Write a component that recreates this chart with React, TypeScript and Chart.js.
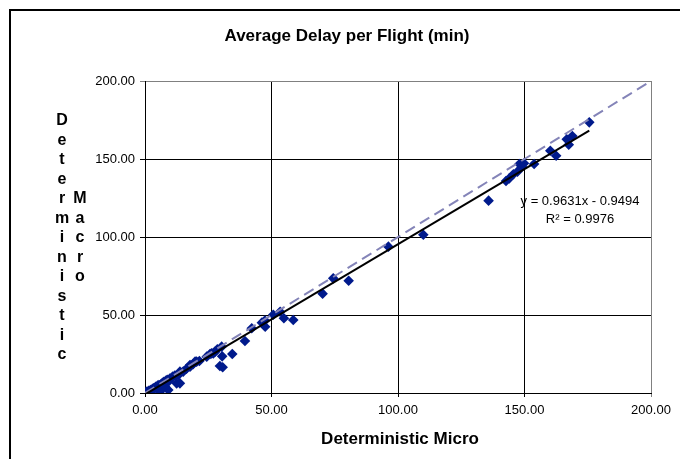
import React, { useEffect, useRef } from "react";
import { Chart, registerables } from "chart.js";

Chart.register(...registerables);

const chartTitle = "Average Delay per Flight (min)";
const xAxisTitle = "Deterministic Micro";
const yAxisTitleWords = ["Deterministic", "Macro"];
const equationLines = ["y = 0.9631x - 0.9494", "R\u00B2 = 0.9976"];

const microDelay = [
  0.2, 0.5, 0.8, 1.2, 1.5, 2.0, 2.4, 3.0, 3.3, 3.8, 4.2, 4.6, 5.0, 5.5, 5.9, 5.9,
  6.5, 7.0, 7.5, 7.9, 8.3, 8.8, 9.2, 9.4, 9.8, 10.5, 11.0, 11.8, 12.5, 13.2, 13.8,
  13.8, 15.1, 16.4, 17.8, 17.8, 19.0, 19.8, 20.4, 21.5, 24.4, 25.7, 26.3, 27.0,
  27.7, 28.6, 29.6, 30.7, 30.5, 30.3, 34.5, 39.5, 42.2, 46.2, 47.4, 47.5, 50.7,
  53.4, 54.9, 58.6, 70.2, 74.4, 80.5, 96.2, 110.0, 135.8, 142.7, 144.0, 145.6,
  147.2, 148.0, 149.0, 149.8, 153.8, 160.2, 162.5, 166.7, 167.5, 168.9, 175.6,
];
const macroDelay = [
  0.3, 0.2, 0.9, 0.6, 1.4, 1.5, 2.1, 2.6, 3.0, 2.9, 4.0, 3.5, 4.8, 5.1, 0.8, 2.4,
  5.9, 6.6, 7.2, 4.0, 8.0, 8.4, 1.9, 7.6, 9.2, 9.8, 10.6, 11.2, 6.2, 11.5, 6.2,
  13.7, 13.7, 15.5, 16.9, 17.9, 18.5, 20.1, 20.1, 20.5, 23.3, 25.0, 25.4, 25.4,
  26.5, 28.0, 17.3, 16.5, 23.5, 29.7, 25.0, 33.3, 41.5, 45.1, 46.4, 42.5, 50.2,
  52.1, 47.9, 46.8, 63.7, 73.5, 72.0, 93.8, 101.4, 123.3, 135.9, 137.6, 140.2,
  141.9, 146.8, 145.0, 147.2, 146.8, 155.3, 152.1, 162.6, 159.2, 164.7, 173.5,
];

const trendX = [0.2, 175.6];
const trendY = [-0.76, 168.17];

const identityX = [0, 200];
const identityY = [0, 200];

const axisMin = 0;
const axisMax = 200;
const axisStep = 50;

const FONT = "'Liberation Sans', Arial, sans-serif";

const textPlugin = {
  id: "textPlugin",
  afterDraw(chart: any) {
    const { ctx, chartArea, width, height } = chart;
    ctx.save();
    // frame
    ctx.strokeStyle = "#000";
    ctx.lineWidth = 2;
    ctx.beginPath();
    ctx.moveTo(2, height + 5);
    ctx.lineTo(2, 2);
    ctx.lineTo(width - 3, 2);
    ctx.lineTo(width - 3, height + 5);
    ctx.stroke();

    ctx.fillStyle = "#000";
    ctx.textAlign = "center";
    ctx.textBaseline = "middle";
    ctx.font = `bold 17px ${FONT}`;
    ctx.fillText(chartTitle, (chartArea.left + chartArea.right) / 2 - 51, 28);
    ctx.fillText(xAxisTitle, (chartArea.left + chartArea.right) / 2 + 2, 431);

    ctx.font = `bold 16px ${FONT}`;
    const colX = [54, 72];
    const startIdx = [0, 4];
    const step = 19.5;
    yAxisTitleWords.forEach((w, c) => {
      for (let i = 0; i < w.length; i++) {
        ctx.fillText(w[i], colX[c], 113 + (startIdx[c] + i) * step);
      }
    });

    ctx.font = `13px ${FONT}`;
    ctx.fillText(equationLines[0], 572, 193);
    ctx.fillText(equationLines[1], 572, 211);
    ctx.restore();
  },
};

const gridColor = (c: any) =>
  c.tick && c.tick.value === axisMax ? "#808080" : "#000000";

export default function App() {
  const ref = useRef<HTMLCanvasElement>(null);
  useEffect(() => {
    document.documentElement.style.overflow = "hidden";
    const pts = microDelay.map((x, i) => ({ x, y: macroDelay[i] }));
    const trend = trendX.map((x, i) => ({ x, y: trendY[i] }));
    const ident = identityX.map((x, i) => ({ x, y: identityY[i] }));
    const navy = "#001A8C";
    const tickFont = { family: FONT, size: 13 };
    const chart = new Chart(ref.current!, {
      type: "scatter",
      data: {
        datasets: [
          {
            data: trend,
            showLine: true,
            borderColor: "#000000",
            borderWidth: 2,
            pointRadius: 0,
            order: 0,
          },
          {
            data: ident,
            showLine: true,
            borderColor: "#8484B8",
            borderWidth: 2,
            borderDash: [11, 6],
            pointRadius: 0,
            order: 1,
          },
          {
            data: pts,
            showLine: false,
            pointStyle: "rectRot",
            pointRadius: 5.3,
            backgroundColor: navy,
            borderColor: navy,
            borderWidth: 0,
            order: 2,
          },
        ] as any,
      },
      options: {
        animation: false,
        responsive: false,
        layout: { padding: { top: 73, right: 37, bottom: 0, left: 0 } },
        plugins: {
          legend: { display: false },
          tooltip: { enabled: false },
          title: { display: false },
        },
        scales: {
          x: {
            type: "linear",
            min: axisMin,
            max: axisMax,
            ticks: {
              stepSize: axisStep,
              color: "#000",
              font: tickFont,
              padding: 6,
              maxRotation: 0,
              callback: (v: any) => Number(v).toFixed(2),
            },
            grid: { color: gridColor, lineWidth: 1, tickLength: 4, drawTicks: true },
            border: { color: "#000", width: 1 },
            afterFit: (s: any) => {
              s.height = 66;
            },
          },
          y: {
            type: "linear",
            min: axisMin,
            max: axisMax,
            ticks: {
              stepSize: axisStep,
              color: "#000",
              font: tickFont,
              padding: 5,
              callback: (v: any) => Number(v).toFixed(2),
            },
            grid: { color: gridColor, lineWidth: 1, tickLength: 5, drawTicks: true },
            border: { color: "#000", width: 1 },
            afterFit: (s: any) => {
              s.width = 137;
            },
          },
        },
      } as any,
      plugins: [textPlugin],
    });
    return () => chart.destroy();
  }, []);
  return (
    <div style={{ width: 680, height: 451 }}>
      <canvas ref={ref} width={680} height={451} style={{ display: "block" }} />
    </div>
  );
}
